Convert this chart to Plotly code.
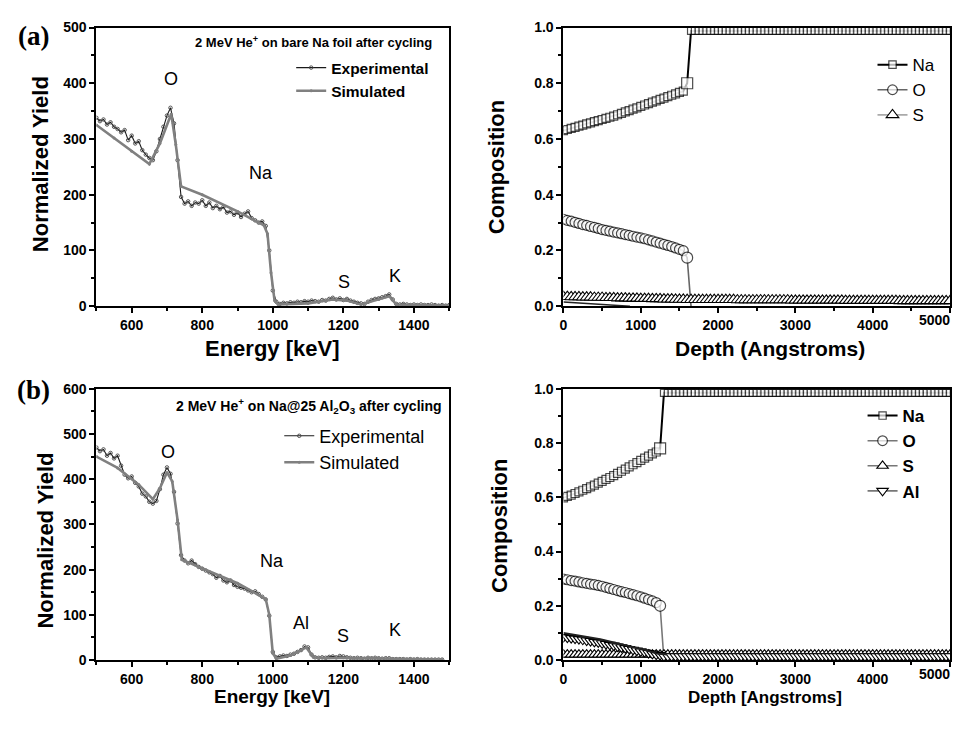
import plotly.graph_objects as go

# ---------------- data: panel (a) spectrum ----------------
energy_a = list(range(500, 1501, 10))
exp_a = [338, 332, 335, 326, 330, 322, 318, 312, 316, 298,
         306, 292, 296, 280, 272, 266, 262, 278, 300, 322,
         342, 356, 328, 262, 196, 184, 188, 180, 186, 184,
         190, 180, 186, 176, 180, 174, 178, 168, 170, 164,
         168, 160, 166, 170, 158, 154, 150, 152, 144, 100,
         28, 8, 4, 6, 5, 7, 6, 8, 7, 9,
         8, 10, 9, 8, 11, 10, 13, 15, 12, 14,
         11, 13, 10, 8, 6, 5, 4, 8, 11, 13,
         14, 16, 18, 21, 12, 4, 3, 4, 3, 2,
         3, 2, 3, 2, 2, 3, 2, 1, 2, 1, 2]
sim_energy_a = [500, 550, 600, 650, 680, 712, 725, 740, 800, 900, 975, 985, 995,
                1005, 1015, 1100, 1170, 1210, 1250, 1300, 1330, 1350, 1400, 1500]
sim_a = [325, 302, 278, 255, 292, 345, 290, 215, 200, 170, 145, 130, 60,
         10, 3, 5, 12, 10, 3, 12, 18, 3, 2, 1]

# ---------------- data: panel (b) spectrum ----------------
energy_b = list(range(500, 1481, 10))
exp_b = [470, 462, 466, 452, 458, 446, 452, 430, 410, 402,
         406, 392, 384, 368, 362, 350, 346, 352, 378, 410,
         426, 412, 372, 302, 232, 220, 214, 220, 212, 206,
         202, 198, 194, 190, 182, 186, 176, 172, 176, 166,
         162, 160, 158, 154, 150, 152, 146, 140, 134, 98,
         18, 6, 8, 10, 9, 12, 14, 18, 22, 30,
         28, 12, 6, 5, 6, 5, 7, 8, 6, 9,
         8, 6, 5, 4, 5, 4, 3, 5, 4, 5,
         4, 3, 4, 4, 2, 2, 2, 2, 1, 2,
         1, 2, 1, 1, 1, 1, 1, 1, 1]
sim_energy_b = [500, 560, 620, 660, 680, 700, 715, 730, 742, 800, 900, 980, 990,
                1000, 1010, 1050, 1095, 1115, 1150, 1200, 1300, 1400, 1480]
sim_b = [450, 425, 388, 356, 380, 415, 395, 310, 222, 203, 170, 135, 100,
         15, 3, 10, 28, 6, 4, 5, 3, 2, 1]

# ---------------- data: panel (a) composition ----------------
depth = list(range(0, 5001, 50))
depth_ticks = [0, 1000, 2000, 3000, 4000, 5000]
depth_tick_labels = ["0", "1000", "2000", "3000", "4000", "5000"]
na_a = [0.630, 0.634, 0.638, 0.642, 0.646, 0.650, 0.654, 0.658, 0.662, 0.666, 0.670,
        0.674, 0.678, 0.682, 0.687, 0.692, 0.697, 0.702, 0.707, 0.712, 0.717,
        0.722, 0.727, 0.732, 0.737, 0.742, 0.747, 0.752, 0.757, 0.762, 0.767, 0.772,
        0.800,
        0.988, 0.988, 0.988, 0.988, 0.988, 0.988, 0.988, 0.988, 0.988, 0.988, 0.988, 0.988,
        0.988, 0.988, 0.988, 0.988, 0.988, 0.988, 0.988, 0.988, 0.988, 0.988, 0.988, 0.988,
        0.988, 0.988, 0.988, 0.988, 0.988, 0.988, 0.988, 0.988, 0.988, 0.988, 0.988, 0.988,
        0.988, 0.988, 0.988, 0.988, 0.988, 0.988, 0.988, 0.988, 0.988, 0.988, 0.988, 0.988,
        0.988, 0.988, 0.988, 0.988, 0.988, 0.988, 0.988, 0.988, 0.988, 0.988, 0.988, 0.988,
        0.988, 0.988, 0.988, 0.988, 0.988, 0.988, 0.988, 0.988]
o_a = [0.312, 0.308, 0.305, 0.301, 0.297, 0.293, 0.290, 0.286, 0.283, 0.279, 0.275,
       0.272, 0.269, 0.266, 0.263, 0.260, 0.257, 0.254, 0.251, 0.248, 0.245,
       0.242, 0.238, 0.234, 0.230, 0.226, 0.222, 0.218, 0.214, 0.209, 0.204, 0.199,
       0.174, 0.0]
s_a = [0.034, 0.034, 0.033, 0.033, 0.033, 0.032, 0.032, 0.032, 0.031, 0.031, 0.031,
       0.030, 0.030, 0.030, 0.029, 0.029, 0.029, 0.028, 0.028, 0.028, 0.027,
       0.027, 0.027, 0.026, 0.026, 0.026, 0.025, 0.025, 0.025, 0.024, 0.024, 0.024,
       0.023,
       0.023, 0.023, 0.023, 0.023, 0.023, 0.023, 0.023, 0.023, 0.023, 0.023, 0.023, 0.023,
       0.022, 0.022, 0.022, 0.022, 0.022, 0.022, 0.022, 0.022, 0.022, 0.022, 0.022, 0.022,
       0.022, 0.022, 0.021, 0.021, 0.021, 0.021, 0.021, 0.021, 0.021, 0.021, 0.021, 0.021,
       0.021, 0.021, 0.021, 0.021, 0.020, 0.020, 0.020, 0.020, 0.020, 0.020, 0.020, 0.020,
       0.020, 0.020, 0.020, 0.020, 0.020, 0.020, 0.019, 0.019, 0.019, 0.019, 0.019, 0.019,
       0.019, 0.019, 0.019, 0.019, 0.019, 0.019, 0.019, 0.019]
k_depth_a = [0, 450, 860]
k_a = [0.015, 0.008, 0.0]

# ---------------- data: panel (b) composition ----------------
na_b = [0.598, 0.603, 0.608, 0.614, 0.620, 0.626, 0.632, 0.638, 0.645, 0.652, 0.659,
        0.666, 0.673, 0.680, 0.688, 0.696, 0.704, 0.712, 0.720, 0.728, 0.736,
        0.744, 0.752, 0.760, 0.767, 0.780,
        0.985, 0.985, 0.985, 0.985, 0.985, 0.985, 0.985, 0.985, 0.985, 0.985,
        0.985, 0.985, 0.985, 0.985, 0.985, 0.985, 0.985, 0.985, 0.985, 0.985,
        0.985, 0.985, 0.985, 0.985, 0.985, 0.985, 0.985, 0.985, 0.985, 0.985,
        0.985, 0.985, 0.985, 0.985, 0.985, 0.985, 0.985, 0.985, 0.985, 0.985,
        0.985, 0.985, 0.985, 0.985, 0.985, 0.985, 0.985, 0.985, 0.985, 0.985,
        0.985, 0.985, 0.985, 0.985, 0.985, 0.985, 0.985, 0.985, 0.985, 0.985,
        0.985, 0.985, 0.985, 0.985, 0.985, 0.985, 0.985, 0.985, 0.985, 0.985,
        0.985, 0.985, 0.985, 0.985, 0.985]
o_b = [0.298, 0.296, 0.293, 0.291, 0.288, 0.285, 0.283, 0.280, 0.278, 0.275, 0.272,
       0.268, 0.264, 0.260, 0.256, 0.252, 0.249, 0.245, 0.241, 0.237, 0.233,
       0.228, 0.223, 0.218, 0.212, 0.200, 0.0]
s_b = [0.020, 0.020, 0.020, 0.020, 0.020, 0.020, 0.020, 0.020, 0.020, 0.020,
       0.020, 0.020, 0.020, 0.020, 0.020, 0.020, 0.020, 0.020, 0.020, 0.020,
       0.020, 0.020, 0.020, 0.020, 0.020, 0.020, 0.020, 0.020, 0.020, 0.020,
       0.020, 0.020, 0.020, 0.020, 0.020, 0.020, 0.020, 0.020, 0.020, 0.020,
       0.020, 0.020, 0.020, 0.020, 0.020, 0.020, 0.020, 0.020, 0.020, 0.020,
       0.020, 0.020, 0.020, 0.020, 0.020, 0.020, 0.020, 0.020, 0.020, 0.020,
       0.020, 0.020, 0.020, 0.020, 0.020, 0.020, 0.020, 0.020, 0.020, 0.020,
       0.020, 0.020, 0.020, 0.020, 0.020, 0.020, 0.020, 0.020, 0.020, 0.020,
       0.020, 0.020, 0.020, 0.020, 0.020, 0.020, 0.020, 0.020, 0.020, 0.020,
       0.020, 0.020, 0.020, 0.020, 0.020, 0.020, 0.020, 0.020, 0.020, 0.020,
       0.020]
al_b = [0.085, 0.083, 0.081, 0.079, 0.077, 0.075, 0.072, 0.070, 0.067, 0.065, 0.062,
        0.059, 0.056, 0.053, 0.050, 0.047, 0.044, 0.041, 0.038, 0.035, 0.032,
        0.029, 0.026, 0.023, 0.020, 0.018,
        0.014, 0.014, 0.014, 0.014, 0.014, 0.014, 0.014, 0.014, 0.014, 0.014,
        0.014, 0.014, 0.014, 0.014, 0.014, 0.014, 0.014, 0.014, 0.014, 0.014,
        0.014, 0.014, 0.014, 0.014, 0.014, 0.014, 0.014, 0.014, 0.014, 0.014,
        0.014, 0.014, 0.014, 0.014, 0.014, 0.014, 0.014, 0.014, 0.014, 0.014,
        0.014, 0.014, 0.014, 0.014, 0.014, 0.014, 0.014, 0.014, 0.014, 0.014,
        0.014, 0.014, 0.014, 0.014, 0.014, 0.014, 0.014, 0.014, 0.014, 0.014,
        0.014, 0.014, 0.014, 0.014, 0.014, 0.014, 0.014, 0.014, 0.014, 0.014,
        0.014, 0.014, 0.014, 0.014, 0.014]
k_depth_b = [0, 476, 990, 1208, 1340]
k_b = [0.100, 0.077, 0.042, 0.024, 0.020]

# ---------------- labels ----------------
peak_labels_a = ["O", "Na", "S", "K"]
peak_x_a = [712, 966, 1201, 1345]
peak_y_a = [407, 239, 44, 54]
peak_labels_b = ["O", "Na", "Al", "S", "K"]
peak_x_b = [702, 998, 1080, 1200, 1345]
peak_y_b = [461, 219, 83, 53, 66]

# Canvas kept just inside the window so the page is photographed 1:1.
W, H = 954, 714
SANS = "Liberation Sans"


def px_x(p):
    return p / W


def px_y(p):
    return (H - p) / H


fig = go.Figure()

exp_marker = dict(symbol="circle-open", size=3.5, color="#444", line=dict(width=0.9))
sim_marker = dict(symbol="circle", size=3, color="#808080")

# ---- spectra
fig.add_trace(go.Scatter(x=energy_a, y=exp_a, name="Experimental", mode="lines+markers",
                         line=dict(color="#1a1a1a", width=1.1), marker=exp_marker,
                         xaxis="x", yaxis="y", legend="legend"))
fig.add_trace(go.Scatter(x=sim_energy_a, y=sim_a, name="Simulated", mode="lines+markers",
                         line=dict(color="#808080", width=2.6), marker=sim_marker,
                         xaxis="x", yaxis="y", legend="legend"))
fig.add_trace(go.Scatter(x=energy_b, y=exp_b, name="Experimental", mode="lines+markers",
                         line=dict(color="#1a1a1a", width=1.1), marker=exp_marker,
                         xaxis="x3", yaxis="y3", legend="legend2"))
fig.add_trace(go.Scatter(x=sim_energy_b, y=sim_b, name="Simulated", mode="lines+markers",
                         line=dict(color="#808080", width=2.6), marker=sim_marker,
                         xaxis="x3", yaxis="y3", legend="legend2"))

# ---- composition (a)
na_a_sizes = [8] * 32 + [11] + [7] * 68
o_a_sizes = [10] * 32 + [11] + [0]
fig.add_trace(go.Scatter(x=depth[:len(na_a)], y=na_a, name="Na", mode="lines+markers",
                         line=dict(color="black", width=2),
                         marker=dict(symbol="square", size=na_a_sizes, color="white",
                                     line=dict(color="black", width=1.2)),
                         xaxis="x2", yaxis="y2", legend="legend3"))
fig.add_trace(go.Scatter(x=depth[:len(o_a)], y=o_a, name="O", mode="lines+markers",
                         line=dict(color="#666", width=1.6),
                         marker=dict(symbol="circle", size=o_a_sizes, color="white",
                                     line=dict(color="black", width=1.2)),
                         xaxis="x2", yaxis="y2", legend="legend3"))
fig.add_trace(go.Scatter(x=k_depth_a, y=k_a, mode="lines", showlegend=False,
                         line=dict(color="#222", width=1.5),
                         xaxis="x2", yaxis="y2"))
fig.add_trace(go.Scatter(x=depth[:len(s_a)], y=s_a, name="S", mode="lines+markers",
                         line=dict(color="#aaa", width=1.6),
                         marker=dict(symbol="triangle-up", size=11, color="white",
                                     line=dict(color="black", width=1.1)),
                         xaxis="x2", yaxis="y2", legend="legend3"))

# ---- composition (b)
na_b_sizes = [8] * 25 + [11] + [7] * 75
o_b_sizes = [10] * 25 + [11] + [0]
fig.add_trace(go.Scatter(x=depth[:len(na_b)], y=na_b, name="Na", mode="lines+markers",
                         line=dict(color="black", width=2),
                         marker=dict(symbol="square", size=na_b_sizes, color="white",
                                     line=dict(color="black", width=1.2)),
                         xaxis="x4", yaxis="y4", legend="legend4"))
fig.add_trace(go.Scatter(x=depth[:len(o_b)], y=o_b, name="O", mode="lines+markers",
                         line=dict(color="#777", width=1.6),
                         marker=dict(symbol="circle", size=o_b_sizes, color="white",
                                     line=dict(color="black", width=1.2)),
                         xaxis="x4", yaxis="y4", legend="legend4"))
fig.add_trace(go.Scatter(x=depth[:len(s_b)], y=s_b, name="S", mode="lines+markers",
                         line=dict(color="#777", width=1.6),
                         marker=dict(symbol="triangle-up", size=10, color="white",
                                     line=dict(color="black", width=1.1)),
                         xaxis="x4", yaxis="y4", legend="legend4"))
fig.add_trace(go.Scatter(x=depth[:len(al_b)], y=al_b, name="Al", mode="lines+markers",
                         line=dict(color="#777", width=1.6),
                         marker=dict(symbol="triangle-down", size=10, color="white",
                                     line=dict(color="black", width=1.1)),
                         xaxis="x4", yaxis="y4", legend="legend4"))
fig.add_trace(go.Scatter(x=k_depth_b, y=k_b, mode="lines", showlegend=False,
                         line=dict(color="#222", width=1.8),
                         xaxis="x4", yaxis="y4"))

tickfont = dict(family=SANS, size=14, color="black", weight="bold")


def axis(domain, rng, dtick, mdtick, anchor, fmt=None):
    d = dict(domain=domain, range=rng, dtick=dtick, tick0=0, anchor=anchor,
             showline=True, linewidth=2, linecolor="black", mirror=True,
             ticks="outside", ticklen=5, tickwidth=1.5, tickcolor="black",
             minor=dict(ticks="outside", ticklen=3, tickwidth=1.5, tickcolor="black",
                        dtick=mdtick, tick0=0, showgrid=False),
             showgrid=False, zeroline=False, tickfont=tickfont, fixedrange=True)
    if fmt:
        d["tickformat"] = fmt
    return d


def depth_axis(domain, anchor):
    d = axis(domain, [0, 5000], 1000, 500, anchor)
    # last label is written separately so that it stays inside the canvas
    d.update(tickmode="array", tickvals=depth_ticks,
             ticktext=depth_tick_labels[:-1] + [" "])
    return d


BOTTOM_AXIS_Y = 667
xl = [px_x(93), px_x(448)]
xr = [px_x(563), px_x(952)]
yt = [px_y(305), px_y(20)]
yb = [px_y(BOTTOM_AXIS_Y), px_y(389.5)]

fig.update_layout(
    width=W, height=H, margin=dict(l=0, r=0, t=0, b=0),
    paper_bgcolor="white", plot_bgcolor="white",
    xaxis=axis(xl, [500, 1500], 200, 100, "y"),
    yaxis=axis(yt, [0, 500], 100, 50, "x"),
    xaxis2=depth_axis(xr, "y2"),
    yaxis2=axis(yt, [0, 1.0], 0.2, 0.1, "x2", ".1f"),
    xaxis3=axis(xl, [500, 1500], 200, 100, "y3"),
    yaxis3=axis(yb, [0, 600], 100, 50, "x3"),
    xaxis4=depth_axis(xr, "y4"),
    yaxis4=axis(yb, [0, 1.0], 0.2, 0.1, "x4", ".1f"),
    legend=dict(x=px_x(289), y=px_y(44), xanchor="left", yanchor="top",
                bgcolor="rgba(0,0,0,0)", tracegroupgap=0,
                font=dict(family=SANS, size=15.5, color="black", weight="bold")),
    legend2=dict(x=px_x(277), y=px_y(419), xanchor="left", yanchor="top",
                 bgcolor="rgba(0,0,0,0)", tracegroupgap=0,
                 font=dict(family=SANS, size=18, color="black")),
    legend3=dict(x=px_x(874), y=px_y(40), xanchor="left", yanchor="top",
                 bgcolor="rgba(0,0,0,0)", tracegroupgap=0,
                 font=dict(family=SANS, size=17, color="black")),
    legend4=dict(x=px_x(864), y=px_y(399), xanchor="left", yanchor="top",
                 bgcolor="rgba(0,0,0,0)", tracegroupgap=0,
                 font=dict(family=SANS, size=17, color="black", weight="bold")),
    showlegend=True,
)

ann = []
# peak labels
for t, x, y in zip(peak_labels_a, peak_x_a, peak_y_a):
    ann.append(dict(text=t, x=x, y=y, xref="x", yref="y", showarrow=False,
                    xanchor="center", yanchor="middle",
                    font=dict(family=SANS, size=18, color="black")))
for t, x, y in zip(peak_labels_b, peak_x_b, peak_y_b):
    ann.append(dict(text=t, x=x, y=y, xref="x3", yref="y3", showarrow=False,
                    xanchor="center", yanchor="middle",
                    font=dict(family=SANS, size=18, color="black")))

# last depth tick labels, right-aligned at the canvas edge
for ya in (319, BOTTOM_AXIS_Y + 14):
    ann.append(dict(text=depth_tick_labels[-1], x=1.0, y=px_y(ya), xref="paper", yref="paper",
                    xanchor="right", yanchor="middle", showarrow=False, font=tickfont))

# inner titles
ann.append(dict(text="2 MeV He<sup>+</sup> on bare Na foil after cycling",
                x=px_x(433), y=px_y(35), xref="paper", yref="paper",
                xanchor="right", yanchor="middle", showarrow=False,
                font=dict(family=SANS, size=13, color="black", weight="bold")))
ann.append(dict(text="2 MeV He<sup>+</sup> on Na@25 Al<sub>2</sub>O<sub>3</sub> after cycling",
                x=px_x(443), y=px_y(407), xref="paper", yref="paper",
                xanchor="right", yanchor="middle", showarrow=False,
                font=dict(family=SANS, size=14, color="black", weight="bold")))

# panel letters and axis titles (paper positions, centred)
serif = dict(family="Liberation Serif", size=27, color="black", weight="bold")
title_font = dict(family=SANS, size=22, color="black", weight="bold")
centred = [
    dict(text="(a)", x=px_x(30), y=px_y(29), font=serif),
    dict(text="(b)", x=px_x(30), y=px_y(391), font=serif),
    dict(text="Normalized Yield", x=px_x(37), y=px_y(160), textangle=-90, font=title_font),
    dict(text="Energy [keV]", x=px_x(270), y=px_y(348), font=title_font),
    dict(text="Normalized Yield", x=px_x(42), y=px_y(545), textangle=-90, font=title_font),
    dict(text="Energy [keV]", x=px_x(270), y=px_y(704),
         font=dict(family=SANS, size=19, color="black", weight="bold")),
    dict(text="Composition", x=px_x(495), y=px_y(163), textangle=-90, font=title_font),
    dict(text="Depth (Angstroms)", x=px_x(771), y=px_y(348),
         font=dict(family=SANS, size=21, color="black", weight="bold")),
    dict(text="Composition", x=px_x(498), y=px_y(530), textangle=-90, font=title_font),
    dict(text="Depth [Angstroms]", x=px_x(766), y=px_y(705),
         font=dict(family=SANS, size=17, color="black", weight="bold")),
]
for a in centred:
    a.update(xref="paper", yref="paper", showarrow=False, xanchor="center", yanchor="middle")
ann += centred

fig.update_layout(annotations=ann)
fig.write_html("out.html")
